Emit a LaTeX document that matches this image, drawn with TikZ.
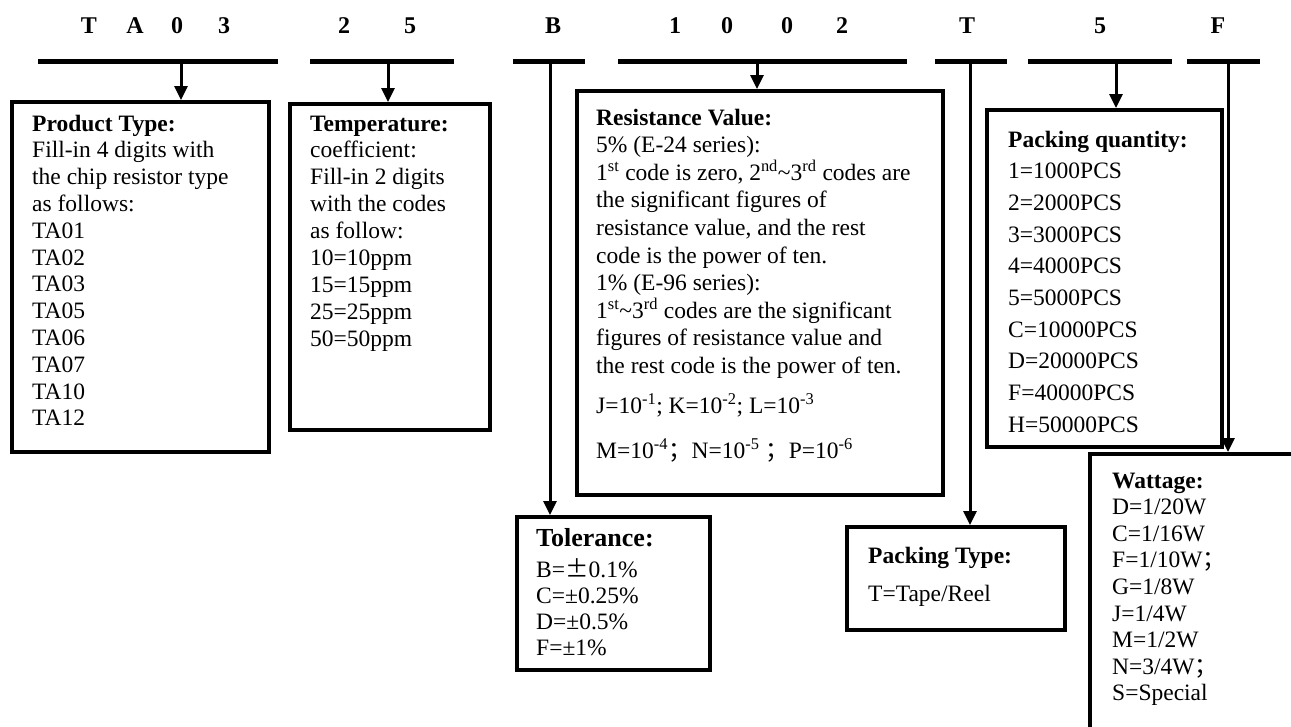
\documentclass[tikz,border=0pt]{standalone}
\usepackage{fontspec}
\setmainfont{Liberation Serif}
\newfontfamily\cjk{Noto Sans CJK SC}
\usetikzlibrary{arrows.meta}
\tikzset{
  box/.style={draw, line width=3.5pt, inner sep=0pt, anchor=north west},
  bar/.style={line width=5pt},
  conn/.style={line width=3pt, -{Triangle[length=14pt,width=13pt]}},
  hdr/.style={font=\fontsize{24}{28}\bfseries\selectfont, inner sep=0pt, anchor=base},
  txt/.style={inner sep=0pt, anchor=base west, font=\fontsize{23.5}{26.8}\selectfont},
}
\newcommand{\su}[1]{\textsuperscript{#1}}
\begin{document}
\begin{tikzpicture}[x=1pt,y=-1pt]
\useasboundingbox (0,0) rectangle (1291,726);
\fill[white] (0,0) rectangle (1291,726);
\clip (0,0) rectangle (1291,726);

% header characters
\node[hdr] (h1) at (89,33) {T};
\node[hdr] (h2) at (135,33) {A};
\node[hdr] (h3) at (177,33) {0};
\node[hdr] (h4) at (224,33) {3};
\node[hdr] (h5) at (344,33) {2};
\node[hdr] (h6) at (410,33) {5};
\node[hdr] (h7) at (553,33) {B};
\node[hdr] (h8) at (675,33) {1};
\node[hdr] (h9) at (727,33) {0};
\node[hdr] (h10) at (787,33) {0};
\node[hdr] (h11) at (842,33) {2};
\node[hdr] (h12) at (967,33) {T};
\node[hdr] (h13) at (1100,33) {5};
\node[hdr] (h14) at (1218,33) {F};

% bars
\coordinate (b1l) at (38,61);   \coordinate (b1r) at (278,61);
\coordinate (b2l) at (310,61);  \coordinate (b2r) at (454,61);
\coordinate (b3l) at (513,61);  \coordinate (b3r) at (585,61);
\coordinate (b4l) at (618,61);  \coordinate (b4r) at (907,61);
\coordinate (b5l) at (935,61);  \coordinate (b5r) at (1007,61);
\coordinate (b6l) at (1028,61); \coordinate (b6r) at (1172,61);
\coordinate (b7l) at (1187,61); \coordinate (b7r) at (1260,61);
\foreach \i in {1,...,7}{\draw[bar] (b\i l) -- (b\i r);}

% boxes
\node[box, minimum width=257pt, minimum height=350pt] (pbox) at (10,100) {};
\node[box, minimum width=200pt, minimum height=326pt] (tbox) at (288,102) {};
\node[box, minimum width=366pt, minimum height=404pt] (rbox) at (575,89) {};
\node[box, minimum width=235pt, minimum height=337pt] (qbox) at (985,108) {};
\node[box, minimum width=193pt, minimum height=153pt] (tolbox) at (515,515) {};
\node[box, minimum width=218pt, minimum height=103pt] (ptbox) at (845,525) {};
\node[box, minimum width=260pt, minimum height=320pt] (wbox) at (1088,452) {};

% connectors
\coordinate (c1) at (181,61);
\coordinate (c2) at (388,61);
\coordinate (c3) at (550,61);
\coordinate (c4) at (757,61);
\coordinate (c5) at (970,61);
\coordinate (c6) at (1116,61);
\coordinate (c7) at (1228,61);
\draw[conn] (c1) -- (c1 |- pbox.north);
\draw[conn] (c2) -- (c2 |- tbox.north);
\draw[conn] (c3) -- (c3 |- tolbox.north);
\draw[conn] (c4) -- (c4 |- rbox.north);
\draw[conn] (c5) -- (c5 |- ptbox.north);
\draw[conn] (c6) -- (c6 |- qbox.north);
\draw[conn] (c7) -- (c7 |- wbox.north);

% texts
\node[txt] (ptxt) at (32,131) {\parbox[t]{230pt}{\fontsize{23.5}{26.8}\selectfont\raggedright
\textbf{Product Type:}\\Fill-in 4 digits with\\the chip resistor type\\as follows:\\TA01\\TA02\\TA03\\TA05\\TA06\\TA07\\TA10\\TA12}};

\node[txt] (ttxt) at (310,131) {\parbox[t]{175pt}{\fontsize{23.5}{26.9}\selectfont\raggedright
\textbf{Temperature:}\\coefficient:\\Fill-in 2 digits\\with the codes\\as follow:\\10=10ppm\\15=15ppm\\25=25ppm\\50=50ppm}};

\node[txt] (rtxt) at (596,125) {\parbox[t]{340pt}{\fontsize{23.5}{27.6}\selectfont\raggedright
\textbf{Resistance Value:}\\5\% (E-24 series):\\1\su{st} code is zero, 2\su{nd}\textasciitilde 3\su{rd} codes are\\the significant figures of\\resistance value, and the rest\\code is the power of ten.\\1\% (E-96 series):\\1\su{st}\textasciitilde 3\su{rd} codes are the significant\\figures of resistance value and\\the rest code is the power of ten.\\[12.4pt]J=10\su{-1}; K=10\su{-2}; L=10\su{-3}\\[17.4pt]M=10\su{-4}{\cjk ；}N=10\su{-5} {\cjk ；}P=10\su{-6}}};

\node[txt] (qtxt) at (1008,147) {\parbox[t]{210pt}{\fontsize{23.5}{31.7}\selectfont\raggedright
\textbf{Packing quantity:}\\1=1000PCS\\2=2000PCS\\3=3000PCS\\4=4000PCS\\5=5000PCS\\C=10000PCS\\D=20000PCS\\F=40000PCS\\H=50000PCS}};

\node[txt] (toltxt) at (536,546) {\parbox[t]{170pt}{\fontsize{23.5}{26.3}\selectfont\raggedright
{\fontsize{26}{26.3}\selectfont\bfseries Tolerance:}\\[4.7pt]B={\cjk ±}0.1\%\\C=±0.25\%\\D=±0.5\%\\F=±1\%}};

\node[txt] (pttxt) at (868,563) {\parbox[t]{190pt}{\fontsize{23.5}{38}\selectfont\raggedright
\textbf{Packing Type:}\\T=Tape/Reel}};

\node[txt] (wtxt) at (1112,488) {\parbox[t]{170pt}{\fontsize{23.5}{26.6}\selectfont\raggedright
\textbf{Wattage:}\\D=1/20W\\C=1/16W\\F=1/10W{\cjk ；}\\G=1/8W\\J=1/4W\\M=1/2W\\N=3/4W{\cjk ；}\\S=Special}};
\end{tikzpicture}
\end{document}
